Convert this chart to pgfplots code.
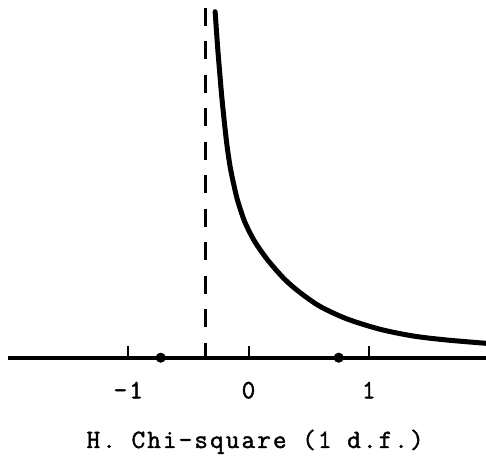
\documentclass[border=0pt]{standalone}
\usepackage{fontspec}
\usepackage{pgfplots}
\pgfplotsset{compat=1.18}
\newfontfamily\labfamily{Latin Modern Mono}[FakeBold=1.6, LetterSpace=8]
\newcommand{\labelfont}{\labfamily\fontsize{13.2}{15}\selectfont}
\begin{document}
\begin{tikzpicture}[x=1pt,y=1pt]
\useasboundingbox (0,0) rectangle (243,229.5);
\begin{axis}[
  at={(4pt,50.65pt)}, anchor=south west,
  scale only axis, width=239pt, height=178.85pt,
  xmin=-2.0, xmax=1.975, ymin=0, ymax=357.7,
  axis y line=none, axis x line*=bottom,
  x axis line style={line width=2pt, -},
  xtick={-1,0,1}, xticklabels={-1,0,1},
  tick align=inside, major tick length=6pt,
  tick style={line width=1pt, black},
  xticklabel style={font=\labelfont, anchor=base, yshift=-20.3pt},
  xlabel={H. Chi-square (1 d.f.)},
  xlabel style={font=\labelfont,
    at={(axis description cs:0.517,0)}, anchor=base, yshift=-45.15pt},
  clip=false,
]
% density curve
\addplot[line width=2.5pt, line cap=round, line join=round, smooth] coordinates {
  (-0.2775,346.0) (-0.2558,309.0) (-0.2275,268.0) (-0.2142,251.0)
  (-0.1942,228.0) (-0.1775,211.0) (-0.150,189.0) (-0.1125,167.7)
  (-0.0942,158.5) (-0.0333,136.5) (0.050,116.5) (0.1608,97.5)
  (0.300,78.5) (0.425,65.5) (0.5917,51.5) (0.8142,39.0)
  (1.0917,28.5) (1.3692,21.7) (1.6475,17.7) (1.975,14.4)
};
% lower bound of the support
\addplot[line width=1.7pt, dash pattern=on 9pt off 7.75pt] coordinates {
  (-0.36,350) (-0.36,0)
};
% points on the axis
\addplot[only marks, mark=*, mark size=2.3pt, black] coordinates {
  (-0.73,0) (0.75,0)
};
\end{axis}
\end{tikzpicture}
\end{document}
